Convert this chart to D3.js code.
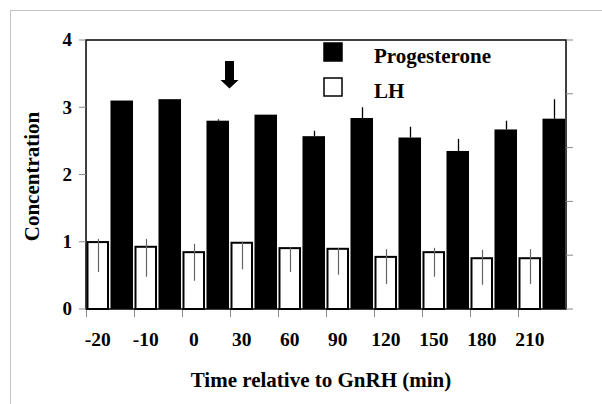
<!DOCTYPE html>
<html>
<head>
  <meta charset="utf-8">
  <title>Progesterone and LH vs time relative to GnRH</title>
  <script src="https://cdn.jsdelivr.net/npm/d3@7/dist/d3.min.js"></script>
  <style>
    body { margin:0; background:white; }
    text { font-family:"Liberation Serif", "Times New Roman", serif; font-weight:bold; fill:black; }
  </style>
</head>
<body>
  <div id="chart"></div>
  <script>
  // values
  var times = ["-20", "-10", "0", "30", "60", "90", "120", "150", "180", "210"];
  var progesterone = [3.10, 3.12, 2.80, 2.89, 2.57, 2.84, 2.55, 2.35, 2.67, 2.83];
  var progesteroneHi = [3.10, 3.12, 2.82, 2.89, 2.65, 3.00, 2.71, 2.53, 2.80, 3.12];
  var lh = [1.01, 0.94, 0.86, 1.00, 0.92, 0.91, 0.79, 0.86, 0.77, 0.77];
  var lhHi = [1.04, 1.04, 0.97, 1.00, 0.92, 0.91, 0.89, 0.91, 0.88, 0.89];
  var lhLo = [0.55, 0.48, 0.42, 0.59, 0.55, 0.51, 0.37, 0.48, 0.36, 0.37];
  var yTicks = [0, 1, 2, 3, 4];
  var rightTicks = [0, 1, 2, 3, 4, 5];
  var series = ["LH", "Progesterone"];
  var arrowAt = "30";

  var W = 602, H = 404;
  var pL = 86, pR = 566, pT = 40, pB = 309;

  var svg = d3.select('#chart').append('svg')
    .attr('width', W)
    .attr('height', H);

  // light outer frame
  svg.append('rect')
    .attr('x', 10.5).attr('y', 10.5)
    .attr('width', 620).attr('height', 420)
    .attr('fill', 'none')
    .attr('stroke', '#c4c4c4');

  var x = d3.scaleBand().domain(times).range([pL, pR]).paddingInner(0).paddingOuter(0);
  var sub = d3.scaleBand().domain(series).range([0, x.bandwidth()]).paddingInner(0.08).paddingOuter(0.02);
  var y = d3.scaleLinear().domain([0, 4]).range([pB, pT]);
  var y2 = d3.scaleLinear().domain([0, 5]).range([pB, pT]);

  var rows = times.map(function(t, i) {
    return {t: t, p: progesterone[i], pHi: progesteroneHi[i], lh: lh[i], lhHi: lhHi[i], lhLo: lhLo[i]};
  });

  function mid(d, s) { return Math.round(x(d.t) + sub(s) + sub.bandwidth() / 2) + 0.5; }

  // progesterone bars (black)
  svg.selectAll('rect.prog')
      .data(rows)
    .enter().append('rect')
      .attr('class', 'prog')
      .attr('x', function(d) { return x(d.t) + sub('Progesterone') - 0.5; })
      .attr('y', function(d) { return y(d.p); })
      .attr('width', sub.bandwidth())
      .attr('height', function(d) { return y(0) - y(d.p); })
      .attr('fill', 'black');

  svg.selectAll('line.progerr')
      .data(rows)
    .enter().append('line')
      .attr('class', 'progerr')
      .attr('x1', function(d) { return mid(d, 'Progesterone'); })
      .attr('x2', function(d) { return mid(d, 'Progesterone'); })
      .attr('y1', function(d) { return y(d.p); })
      .attr('y2', function(d) { return y(d.pHi); })
      .attr('stroke', 'black')
      .attr('stroke-width', 1.3);

  // LH bars (white, black outline)
  svg.selectAll('rect.lh')
      .data(rows)
    .enter().append('rect')
      .attr('class', 'lh')
      .attr('x', function(d) { return x(d.t) + sub('LH') + 1; })
      .attr('y', function(d) { return y(d.lh) + 1; })
      .attr('width', sub.bandwidth() - 2)
      .attr('height', function(d) { return y(0) - y(d.lh) - 1; })
      .attr('fill', 'white')
      .attr('stroke', 'black')
      .attr('stroke-width', 2);

  svg.selectAll('line.lherr')
      .data(rows)
    .enter().append('line')
      .attr('class', 'lherr')
      .attr('x1', function(d) { return mid(d, 'LH'); })
      .attr('x2', function(d) { return mid(d, 'LH'); })
      .attr('y1', function(d) { return y(d.lhHi); })
      .attr('y2', function(d) { return y(d.lhLo); })
      .attr('stroke', '#666')
      .attr('stroke-width', 1.2);

  // plot box
  svg.append('rect')
    .attr('x', pL).attr('y', pT)
    .attr('width', pR - pL).attr('height', pB - pT)
    .attr('fill', 'none')
    .attr('stroke', 'black')
    .attr('stroke-width', 1.5);

  // left axis ticks + labels
  yTicks.forEach(function(v) {
    svg.append('line')
      .attr('x1', pL - 7).attr('x2', pL)
      .attr('y1', y(v)).attr('y2', y(v))
      .attr('stroke', '#888');
    svg.append('text')
      .attr('x', 72).attr('y', y(v))
      .attr('dy', '0.33em')
      .attr('text-anchor', 'end')
      .attr('font-size', 19)
      .text(v);
  });

  // right axis ticks (no labels)
  rightTicks.forEach(function(v) {
    svg.append('line')
      .attr('x1', pR).attr('x2', pR + 7)
      .attr('y1', y2(v)).attr('y2', y2(v))
      .attr('stroke', '#888');
  });

  // bottom ticks + labels
  times.forEach(function(t) {
    svg.append('line')
      .attr('x1', x(t) + 0.5).attr('x2', x(t) + 0.5)
      .attr('y1', pB + 1).attr('y2', pB + 8)
      .attr('stroke', '#888');
    svg.append('text')
      .attr('x', x(t) + sub('LH') + sub.bandwidth() / 2)
      .attr('y', 346)
      .attr('text-anchor', 'middle')
      .attr('font-size', 19.5)
      .text(t);
  });

  // axis titles
  svg.append('text')
    .attr('x', (pL + pR) / 2 - 5)
    .attr('y', 387)
    .attr('text-anchor', 'middle')
    .attr('font-size', 21)
    .text('Time relative to GnRH (min)');

  svg.append('text')
    .attr('transform', 'translate(39,' + ((pT + pB) / 2 + 2) + ') rotate(-90)')
    .attr('text-anchor', 'middle')
    .attr('font-size', 21)
    .text('Concentration');

  // GnRH arrow
  var ax = x(arrowAt) - 0.5;
  svg.append('path')
    .attr('d', 'M' + (ax - 4.5) + ',61 h9 v19 h4.5 l-9,8.5 l-9,-8.5 h4.5 z')
    .attr('fill', 'black');

  // legend
  var legend = [{name: 'Progesterone', fill: 'black'}, {name: 'LH', fill: 'white'}];
  legend.forEach(function(l, i) {
    var ly = 43 + i * 35;
    svg.append('rect')
      .attr('x', 324).attr('y', ly)
      .attr('width', 18).attr('height', 18)
      .attr('fill', l.fill)
      .attr('stroke', 'black')
      .attr('stroke-width', 1.5);
    svg.append('text')
      .attr('x', 374).attr('y', ly + 20)
      .attr('font-size', 21)
      .text(l.name);
  });
  </script>
</body>
</html>
